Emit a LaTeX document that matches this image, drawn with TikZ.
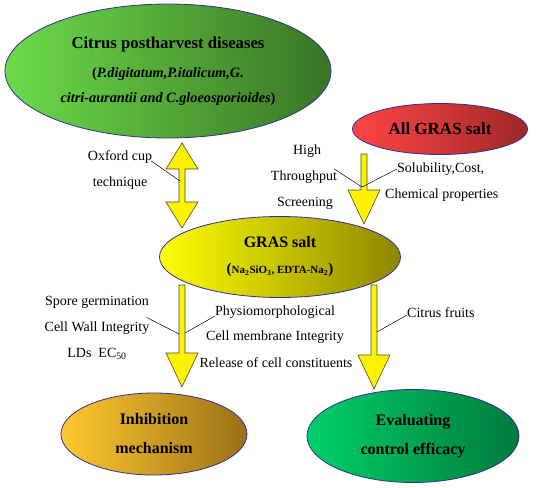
\documentclass[tikz,border=0pt]{standalone}
\usepackage{fontspec}
\setmainfont{Liberation Serif}
\usepackage{tikz}
\usetikzlibrary{
calc,
shapes.geometric
}
\definecolor{rim}{HTML}{2E2E9A}
\definecolor{arrowfill}{HTML}{FFF200}
\definecolor{arrowrim}{HTML}{4A4A2A}
\definecolor{greenL}{HTML}{6CDB4A}
\definecolor{greenD}{HTML}{3A7424}
\definecolor{redL}{HTML}{FF4545}
\definecolor{redD}{HTML}{A02828}
\definecolor{yellowL}{HTML}{FFFF00}
\definecolor{yellowD}{HTML}{8F8500}
\definecolor{orangeL}{HTML}{FFC92E}
\definecolor{orangeD}{HTML}{9A7018}
\definecolor{mintL}{HTML}{00D068}
\definecolor{mintD}{HTML}{007A3C}

% block arrow pointing down: #1 shaft top, #2 tip
\newcommand{\downblock}[2]{%
\draw[blockarrow] ($(#1)+(-3,0)$) -- ($(#2)+(-3,-34)$) -- ($(#2)+(-16,-34)$)
  -- (#2) -- ($(#2)+(16,-34)$) -- ($(#2)+(3,-34)$) -- ($(#1)+(3,0)$) -- cycle;}

\begin{document}
\begin{tikzpicture}[
x=1pt, y=-1pt,
oval/.style={
ellipse,
draw=rim,
line width=0.8pt,
inner sep=0pt,
align=center
},
blockarrow/.style={fill=arrowfill, draw=arrowrim, line width=0.6pt, line join=miter},
note/.style={font=\rmfamily\fontsize{14}{16}\selectfont, align=center, inner sep=1pt},
pointer/.style={draw=black, line width=0.5pt}
]
\useasboundingbox (0,0) rectangle (550,488);

% ovals
\node[oval, left color=greenL, right color=greenD,
  minimum width=326, minimum height=134,
  font=\rmfamily\bfseries\fontsize{14.3}{25}\selectfont] (diseases) at (168,71)
  {{\fontsize{16.7}{18}\selectfont Citrus postharvest diseases}\\[4pt]
   (\textit{P.digitatum,P.italicum,G.}\\
   \textit{citri-aurantii and C.gloeosporioides})};
\node[oval, left color=redL, right color=redD,
  minimum width=175, minimum height=51,
  font=\rmfamily\bfseries\fontsize{17}{19}\selectfont] (allgras) at (440,129)
  {All GRAS salt};
\node[oval, left color=yellowL, right color=yellowD,
  minimum width=241, minimum height=81,
  font=\rmfamily\bfseries\fontsize{11}{12}\selectfont] (gras) at (280,257)
  {{\fontsize{16}{18}\selectfont GRAS salt}\\[14pt]
   {\fontsize{15}{14}\selectfont(}Na\textsubscript{2}SiO\textsubscript{3}, EDTA-Na\textsubscript{2}{\fontsize{15}{14}\selectfont)}};
\node[oval, left color=orangeL, right color=orangeD,
  minimum width=186, minimum height=82,
  font=\rmfamily\bfseries\fontsize{16}{29}\selectfont] (inhib) at (154,434)
  {Inhibition\\ mechanism};
\node[oval, left color=mintL, right color=mintD,
  minimum width=212, minimum height=93,
  font=\rmfamily\bfseries\fontsize{16}{29}\selectfont] (evaluate) at (413,436)
  {Evaluating\\ control efficacy};

% arrow ends
\coordinate (dtop) at (182,143);
\coordinate (dbot) at (182,228);
\coordinate (s1) at (364,154);
\coordinate (t1) at (364,224);
\coordinate (s2) at (182,285);
\coordinate (t2) at (182,387);
\coordinate (s3) at (374,285);
\coordinate (t3) at (374,389);

% double arrow
\draw[blockarrow] (dtop) -- ($(dtop)+(16,26)$) -- ($(dtop)+(3,26)$) -- ($(dbot)+(3,-26)$)
  -- ($(dbot)+(16,-26)$) -- (dbot) -- ($(dbot)+(-16,-26)$) -- ($(dbot)+(-3,-26)$)
  -- ($(dtop)+(-3,26)$) -- ($(dtop)+(-16,26)$) -- cycle;
\downblock{s1}{t1}
\downblock{s2}{t2}
\downblock{s3}{t3}

% labels
\node[note] (oxford) at (120,157) {Oxford cup};
\node[note] (technique) at (120,183) {technique};
\node[note] (high) at (307,151) {High};
\node[note] (through) at (304,177) {Throughput};
\node[note] (screen) at (305,203) {Screening};
\node[note, anchor=west] (solub) at (396,169) {Solubility,Cost,};
\node[note, anchor=west] (chem) at (384,195) {Chemical properties};
\node[note] (spore) at (97,302) {Spore germination};
\node[note] (wall) at (97,328) {Cell Wall Integrity};
\node[note] (lds) at (97,354) {LDs\ \ EC\textsubscript{50}};
\node[note] (physio) at (275,312) {Physiomorphological};
\node[note] (membrane) at (275,337) {Cell membrane Integrity};
\node[note] (release) at (276,363) {Release of cell constituents};
\node[note, anchor=west] (fruits) at (406,313) {Citrus fruits};

% pointers
\coordinate (p1) at (180,181);
\coordinate (p2) at (362,187);
\coordinate (p3) at (179,334);
\coordinate (p4) at (185,333);
\coordinate (p5) at (377,332);
\draw[pointer] (oxford.east) ++(-2,4) -- (p1);
\draw[pointer] (through.east) ++(-4,-8) -- (p2);
\draw[pointer] (solub.west) ++(1,0) -- (p2);
\draw[pointer] (wall.north east) ++(-4,-3) -- (p3);
\draw[pointer] (physio.west) ++(1,4) -- (p4);
\draw[pointer] (fruits.west) ++(1,2) -- (p5);

\end{tikzpicture}
\end{document}
